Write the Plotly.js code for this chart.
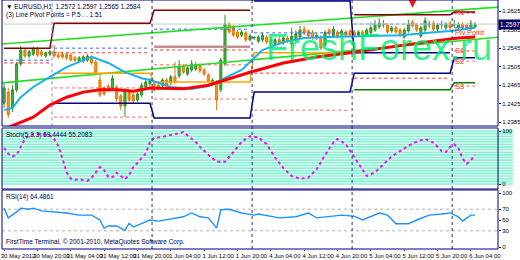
<!DOCTYPE html>
<html><head><meta charset="utf-8">
<script src="https://cdn.plot.ly/plotly-3.0.1.min.js"></script>
<style>html,body{margin:0;padding:0;background:#fff}#chart{width:520px;height:260px}</style>
</head><body><div id="chart"></div>
<script>
// ---------- DATA (EURUSD H1) ----------
const open  = [1.2426,1.2450,1.2416,1.2455,1.2511,1.2541,1.2528,1.2532,1.2543,1.2537,1.2528,1.2532,1.2537,1.2530,1.2532,1.2532,1.2530,1.2524,1.2517,1.2517,1.2519,1.2526,1.2515,1.2476,1.2459,1.2463,1.2459,1.2461,1.2442,1.2420,1.2450,1.2444,1.2433,1.2444,1.2461,1.2468,1.2468,1.2465,1.2465,1.2476,1.2470,1.2483,1.2485,1.2506,1.2489,1.2498,1.2500,1.2509,1.2498,1.2487,1.2468,1.2470,1.2455,1.2511,1.2597,1.2591,1.2580,1.2573,1.2578,1.2563,1.2567,1.2560,1.2563,1.2569,1.2563,1.2554,1.2563,1.2556,1.2567,1.2554,1.2563,1.2569,1.2586,1.2582,1.2578,1.2567,1.2569,1.2552,1.2584,1.2571,1.2580,1.2573,1.2580,1.2582,1.2580,1.2573,1.2580,1.2573,1.2578,1.2584,1.2591,1.2595,1.2595,1.2582,1.2589,1.2584,1.2569,1.2582,1.2601,1.2595,1.2571,1.2584,1.2595,1.2599,1.2586,1.2595,1.2589,1.2599,1.2595,1.2589,1.2597,1.2595,1.2589,1.2591];
const high  = [1.2468,1.2459,1.2465,1.2515,1.2550,1.2545,1.2541,1.2548,1.2548,1.2541,1.2537,1.2541,1.2552,1.2537,1.2537,1.2537,1.2535,1.2528,1.2528,1.2530,1.2532,1.2530,1.2519,1.2487,1.2463,1.2468,1.2487,1.2465,1.2446,1.2459,1.2455,1.2448,1.2450,1.2470,1.2476,1.2480,1.2472,1.2470,1.2480,1.2480,1.2487,1.2515,1.2519,1.2511,1.2506,1.2519,1.2515,1.2513,1.2502,1.2491,1.2480,1.2476,1.2524,1.2617,1.2601,1.2595,1.2584,1.2584,1.2582,1.2576,1.2571,1.2573,1.2578,1.2573,1.2567,1.2567,1.2569,1.2571,1.2571,1.2589,1.2584,1.2593,1.2593,1.2586,1.2584,1.2578,1.2573,1.2584,1.2589,1.2593,1.2584,1.2586,1.2584,1.2586,1.2584,1.2584,1.2584,1.2589,1.2601,1.2606,1.2610,1.2606,1.2599,1.2593,1.2593,1.2589,1.2589,1.2606,1.2606,1.2599,1.2593,1.2612,1.2604,1.2604,1.2599,1.2604,1.2601,1.2604,1.2606,1.2601,1.2601,1.2599,1.2606,1.2601];
const low   = [1.2416,1.2394,1.2407,1.2450,1.2506,1.2524,1.2524,1.2528,1.2526,1.2526,1.2524,1.2528,1.2524,1.2522,1.2522,1.2519,1.2517,1.2515,1.2515,1.2513,1.2515,1.2509,1.2487,1.2439,1.2442,1.2450,1.2455,1.2429,1.2411,1.2396,1.2429,1.2426,1.2429,1.2439,1.2457,1.2463,1.2450,1.2455,1.2461,1.2461,1.2465,1.2468,1.2480,1.2489,1.2485,1.2493,1.2496,1.2491,1.2485,1.2470,1.2463,1.2411,1.2450,1.2506,1.2576,1.2569,1.2565,1.2569,1.2558,1.2560,1.2563,1.2556,1.2558,1.2554,1.2548,1.2550,1.2552,1.2552,1.2556,1.2545,1.2558,1.2565,1.2573,1.2567,1.2563,1.2563,1.2541,1.2548,1.2571,1.2569,1.2567,1.2569,1.2569,1.2569,1.2569,1.2571,1.2567,1.2569,1.2573,1.2580,1.2586,1.2589,1.2576,1.2578,1.2576,1.2569,1.2565,1.2578,1.2589,1.2580,1.2567,1.2580,1.2589,1.2582,1.2582,1.2586,1.2584,1.2584,1.2589,1.2584,1.2584,1.2584,1.2584,1.2589];
const close = [1.2459,1.2401,1.2455,1.2511,1.2541,1.2528,1.2537,1.2543,1.2530,1.2530,1.2535,1.2537,1.2528,1.2526,1.2526,1.2524,1.2519,1.2519,1.2524,1.2526,1.2528,1.2513,1.2491,1.2444,1.2446,1.2455,1.2480,1.2435,1.2420,1.2455,1.2433,1.2431,1.2446,1.2465,1.2472,1.2474,1.2455,1.2459,1.2476,1.2465,1.2483,1.2472,1.2506,1.2493,1.2502,1.2511,1.2509,1.2496,1.2489,1.2474,1.2476,1.2433,1.2519,1.2597,1.2580,1.2573,1.2569,1.2580,1.2563,1.2571,1.2568,1.2569,1.2573,1.2558,1.2552,1.2563,1.2556,1.2567,1.2560,1.2571,1.2576,1.2584,1.2578,1.2571,1.2567,1.2573,1.2545,1.2578,1.2576,1.2586,1.2571,1.2582,1.2573,1.2573,1.2573,1.2580,1.2571,1.2584,1.2589,1.2597,1.2599,1.2596,1.2580,1.2589,1.2580,1.2573,1.2584,1.2597,1.2593,1.2584,1.2589,1.2604,1.2596,1.2586,1.2595,1.2596,1.2597,1.2589,1.2596,1.2597,1.2589,1.2589,1.2599,1.2597];

// moving averages (bar index, price)
const maBlueT = [0,2,4,7,11,15,19,21,25,29,33,35,40,45,49,53,57,59,62,67,72,78,85,95,102,107,113];
const maBlueV = [1.2411,1.2416,1.2439,1.2461,1.2483,1.2504,1.2519,1.2526,1.2513,1.2493,1.2480,1.2476,1.2461,1.2457,1.2463,1.2480,1.2498,1.2515,1.2541,1.2558,1.2567,1.2569,1.2571,1.2573,1.2578,1.2582,1.2589];
const maRedT = [0,4,7,11,15,19,23,27,31,35,43,49,53,59,67,75,83,93,101,109,113];
const maRedV = [1.2370,1.2385,1.2396,1.2422,1.2439,1.2450,1.2455,1.2455,1.2452,1.2459,1.2457,1.2465,1.2476,1.2493,1.2513,1.2526,1.2535,1.2548,1.2558,1.2567,1.2569];

// regression channel (start / end of chart)
const channelT = [-0.5, 119];
const channelUpper = [1.2554, 1.2634];
const channelLower = [1.2470, 1.2569];

// daily pivot levels (one value per day)
const dayStart = [0, 12, 36, 60, 84, 108];
const dayEnd   = [11, 35, 59, 83, 107, 113];
const resLine   = [1.2545, 1.2599, 1.2627, null, 1.2617, 1.2623];
const res2Line  = [null, null, 1.2548, null, null, null];
const supLine   = [null, 1.2426, 1.2394, 1.2450, 1.2491, 1.2524];
const sup2Line  = [null, null, null, 1.2647, 1.2535, null];
const s3Line    = [null, null, null, null, 1.2455, 1.2470];
const midLine   = [null, 1.2491, 1.2472, 1.2535, null, null];
const pivotDot  = [1.2519, 1.2545, 1.2586, 1.2578, 1.2597, 1.2589];
const redDot1   = [1.2513, 1.2535, 1.2541, 1.2491, 1.2480, 1.2539];
const redDot2   = [null, 1.2459, 1.2509, 1.2411, null, 1.2517];
const redDot3   = [null, 1.2396, 1.2435, null, null, 1.2463];
const redDot4   = [null, null, null, null, null, 1.2621];
const pivotNames  = ["R1", "Piv.Point", "S1", "S2", "S3"];
const pivotLabelV = [1.2621, 1.2578, 1.2539, 1.2517, 1.2463];

const daySeps = [35.5, 59.5, 83.5, 107.5];
const pivotSep = [11.5];

const signalT = [98];
const signalV = [1.2632];

// stochastic
const stochT = [0,1,2,3,4,5,6,7,9,10,11,12,13,14,15,16,17,18,19,20,21,22,23,24,25,26,27,28,29,30,31,32,34,35,36,38,40,42,43,44,46,47,49,51,53,55,57,59,61,63,65,67,69,71,73,75,77,79,80,82,84,86,87,89,91,93,95,97,99,101,103,105,106,107,108,109,110,111,112,113];
const stochV = [68,57,52,55,70,85,92,94,94,93,91,85,72,48,22,10,8,9,7,6,12,22,32,26,13,13,21,15,9,17,32,40,58,79,87,89,92,96,98,92,79,70,55,42,42,60,80,90,88,75,50,30,15,10,12,28,55,78,85,75,50,25,15,22,38,52,62,72,80,85,78,62,60,70,75,68,48,38,45,55];
const stochLevels = [0,5,10,15,20,25,30,35,40,45,50,55,60,65,70,75,80,85,90,95,100];

// RSI(14)
const rsiT = [0,1,3,4,6,7,9,13,15,18,21,23,24,25,27,29,30,31,33,35,37,41,43,45,47,49,51,52,54,57,60,61,64,66,70,73,75,78,81,84,86,90,92,94,97,99,102,105,107,109,110,112,113];
const rsiV = [72,54,65,72,70,72,67,65,63,59,59,50,35,39,39,31,44,37,44,50,48,54,56,63,56,54,35,69,70,63,59,61,56,54,56,63,54,56,59,57,50,63,59,43,43,50,59,61,63,56,48,59,59];
const rsiLevels = [30, 70];

const priceTicks = [1.2625, 1.2585, 1.2545, 1.2505, 1.2465, 1.2425, 1.2385];
const stochTicks = [0, 100];
const rsiTicks = [0, 30, 50, 70, 100];
const timeTickIdx = [0,8,16,24,32,40,48,56,64,72,80,88,96,104,112];
const timeTickText = ["30 May 2012","30 May 20:00","31 May 04:00","31 May 12:00","31 May 20:00","1 Jun 04:00","1 Jun 12:00","1 Jun 20:00","4 Jun 04:00","4 Jun 12:00","4 Jun 20:00","5 Jun 04:00","5 Jun 12:00","5 Jun 20:00","6 Jun 04:00"];

const titleMain = "\u25BC EURUSD,H1  1.2572 1.2597 1.2565 1.2584";
const titleSub = "(3) Line Pivot Points = P.5 . . 1.51";
const stochTitle = "Stoch(5,3,3) 59.4444 55.2083";
const rsiTitle = "RSI(14) 64.4861";
const copyright = "FirstTime Terminal, \u00A9 2001-2010, MetaQuotes Software Corp.";
const watermark = "FreshForex.ru";

// ---------- BUILD ----------
const bars = open.map((_, i) => i);
function steps(levels, joined) {
  const xs = [], ys = [];
  levels.forEach((v, d) => {
    if (v === null) { xs.push(dayStart[d]); ys.push(null); return; }
    if (!joined && xs.length) { xs.push(dayStart[d] - 0.5); ys.push(null); }
    xs.push(dayStart[d], dayEnd[d]); ys.push(v, v);
  });
  return {x: xs, y: ys};
}
function stepTrace(levels, joined, color, width, dash) {
  const s = steps(levels, joined);
  return {type: 'scatter', mode: 'lines', x: s.x, y: s.y, xaxis: 'x', yaxis: 'y',
    line: {color: color, width: width, dash: dash || 'solid'}, connectgaps: false, hoverinfo: 'skip'};
}

const FONT = 'Liberation Sans, Arial, sans-serif';
const NARROW = 'Liberation Sans Narrow, Liberation Sans, Arial, sans-serif';
const lastClose = close[close.length - 1];
const priceLineT = [bars[0], channelT[1]];

const traces = [
  stepTrace(redDot1, false, '#ff3030', 1, 'dot'),
  stepTrace(redDot2, false, '#ff6060', 1, 'dot'),
  stepTrace(redDot3, false, '#ff6060', 1, 'dot'),
  stepTrace(redDot4, false, '#ff3030', 1, 'dot'),
  stepTrace(pivotDot, false, '#3060ff', 1, 'dot'),
  {type:'scatter', mode:'lines', x: priceLineT, y:[lastClose,lastClose],
   line:{color:'#c8c8c8', width:1}, hoverinfo:'skip'},
  {type:'scatter', mode:'lines', x: channelT, y: channelUpper, line:{color:'#22e022', width:1.6}, hoverinfo:'skip'},
  {type:'scatter', mode:'lines', x: channelT, y: channelLower, line:{color:'#22e022', width:1.6}, hoverinfo:'skip'},
  stepTrace(res2Line, true, '#c09090', 2.5),
  stepTrace(resLine, true, '#800000', 1.5),
  stepTrace(supLine, true, '#000080', 1.5),
  stepTrace(sup2Line, true, '#000080', 1.5),
  stepTrace(s3Line, true, '#008000', 1.5),
  stepTrace(midLine, true, '#ffa500', 1.5),
  {type:'scatter', mode:'lines', x: maBlueT, y: maBlueV, line:{color:'#1ab0f0', width:2}, hoverinfo:'skip'},
  {type:'scatter', mode:'lines', x: maRedT, y: maRedV, line:{color:'#ff0000', width:3}, hoverinfo:'skip'},
  {type:'candlestick', x: bars, open: open, high: high, low: low, close: close, xaxis:'x', yaxis:'y',
   whiskerwidth: 0,
   increasing:{line:{color:'#2f8f2f', width:1}, fillcolor:'#3cb43c'},
   decreasing:{line:{color:'#e07800', width:1}, fillcolor:'#ff9020'}, hoverinfo:'skip'},
  {type:'scatter', mode:'markers', x: signalT, y: signalV, marker:{symbol:'arrow-down', size:15, color:'#ff1010'}, hoverinfo:'skip'},
  {type:'scatter', mode:'lines', x: stochT, y: stochV, xaxis:'x', yaxis:'y2',
   line:{color:'#ff00ff', width:2, dash:'dot'}, hoverinfo:'skip'},
  {type:'scatter', mode:'lines', x: rsiT, y: rsiV, xaxis:'x', yaxis:'y3',
   line:{color:'#1e90ff', width:1.4}, hoverinfo:'skip'}
];

const D_MAIN = [0.494, 1], D_STOCH = [0.241, 0.486], D_RSI = [0, 0.237];
const shapes = [];
stochLevels.forEach(v => shapes.push({type:'line', xref:'paper', yref:'y2', x0:0, x1:1.03, y0:v, y1:v,
  line:{color:'#7cf5cf', width:1.6}, layer:'below'}));
rsiLevels.forEach(v => shapes.push({type:'line', xref:'paper', yref:'y3', x0:0, x1:1, y0:v, y1:v,
  line:{color:'#b0b0b0', width:1, dash:'dot'}, layer:'below'}));
daySeps.forEach(t => shapes.push({type:'line', xref:'x', yref:'paper', x0:t, x1:t, y0:0, y1:1,
  line:{color:'#303090', width:1, dash:'dot'}}));
pivotSep.forEach(t => shapes.push({type:'line', xref:'x', yref:'y', x0:t, x1:t, y0:1.2376, y1:1.2649,
  line:{color:'#8080e0', width:1, dash:'dot'}}));
[D_MAIN, D_STOCH, D_RSI].forEach(d => shapes.push({type:'rect', xref:'paper', yref:'paper',
  x0:0, x1:1, y0:d[0], y1:d[1], line:{color:'#000080', width:1}}));

const annotations = [
  {xref:'paper', yref:'paper', x:0.005, y:0.997, xanchor:'left', yanchor:'top', text:titleMain, showarrow:false,
   font:{family:FONT, size:6.5, color:'#000040'}},
  {xref:'paper', yref:'paper', x:0.005, y:0.964, xanchor:'left', yanchor:'top', text:titleSub, showarrow:false,
   font:{family:FONT, size:6.5, color:'#000040'}},
  {xref:'paper', yref:'paper', x:0.005, y:0.483, xanchor:'left', yanchor:'top', text:stochTitle, showarrow:false,
   font:{family:FONT, size:6.5, color:'#000040'}},
  {xref:'paper', yref:'paper', x:0.005, y:0.234, xanchor:'left', yanchor:'top', text:rsiTitle, showarrow:false,
   font:{family:FONT, size:6.5, color:'#000040'}},
  {xref:'paper', yref:'paper', x:0.005, y:0.006, xanchor:'left', yanchor:'bottom', text:copyright, showarrow:false,
   font:{family:FONT, size:6.5, color:'#000040'}},
  {xref:'paper', yref:'paper', x:0.528, y:0.81, xanchor:'left', yanchor:'middle', text:watermark, showarrow:false,
   font:{family:FONT, size:36, color:'rgba(0,238,118,0.82)'}},
  {xref:'paper', yref:'y', x:1.0, y:lastClose, xanchor:'left', yanchor:'middle', text:lastClose.toFixed(4), showarrow:false,
   bgcolor:'#000060', font:{family:FONT, size:6.5, color:'#ffffff'}, borderpad:1}
];
pivotNames.forEach((n, i) => annotations.push({xref:'x', yref:'y', x:dayStart[5]-0.3, y:pivotLabelV[i],
  xanchor:'left', yanchor:'middle', text:n, showarrow:false, font:{family:FONT, size:7.5, color:'#ff3030'}}));

const axisFont = {family:FONT, size:6, color:'#000000'};
const layout = {
  width:520, height:260, margin:{l:2, r:22, t:0, b:11},
  paper_bgcolor:'#ffffff', plot_bgcolor:'#ffffff', showlegend:false, hovermode:false,
  xaxis:{range:[-0.5,118.5], tickvals:timeTickIdx, ticktext:timeTickText, tickangle:0, ticks:'outside', ticklen:1,
    tickcolor:'#000080', tickfont:{family:NARROW, size:6, color:'#000000'}, ticklabelshift:14, ticklabelstandoff:0,
    showgrid:false, zeroline:false, showline:false, anchor:'free', position:0, rangeslider:{visible:false}, fixedrange:true},
  yaxis:{domain:D_MAIN, range:[1.23768,1.2649], side:'right', tickvals:priceTicks,
    ticktext:priceTicks.map(v=>v.toFixed(4)), ticks:'outside', ticklen:2, tickcolor:'#000080',
    tickfont:axisFont, showgrid:false, zeroline:false, showline:false},
  yaxis2:{domain:D_STOCH, range:[-9.4,105.7], side:'right', tickvals:stochTicks, ticks:'outside', ticklen:2,
    tickcolor:'#000080', tickfont:axisFont, showgrid:false, zeroline:false, showline:false, anchor:'x'},
  yaxis3:{domain:D_RSI, range:[-3.7,105.6], side:'right', tickvals:rsiTicks, ticks:'outside', ticklen:2,
    tickcolor:'#000080', tickfont:axisFont, showgrid:false, zeroline:false, showline:false, anchor:'x'},
  shapes:shapes, annotations:annotations
};
Plotly.newPlot('chart', traces, layout, {staticPlot:true, displayModeBar:false});
</script></body></html>
